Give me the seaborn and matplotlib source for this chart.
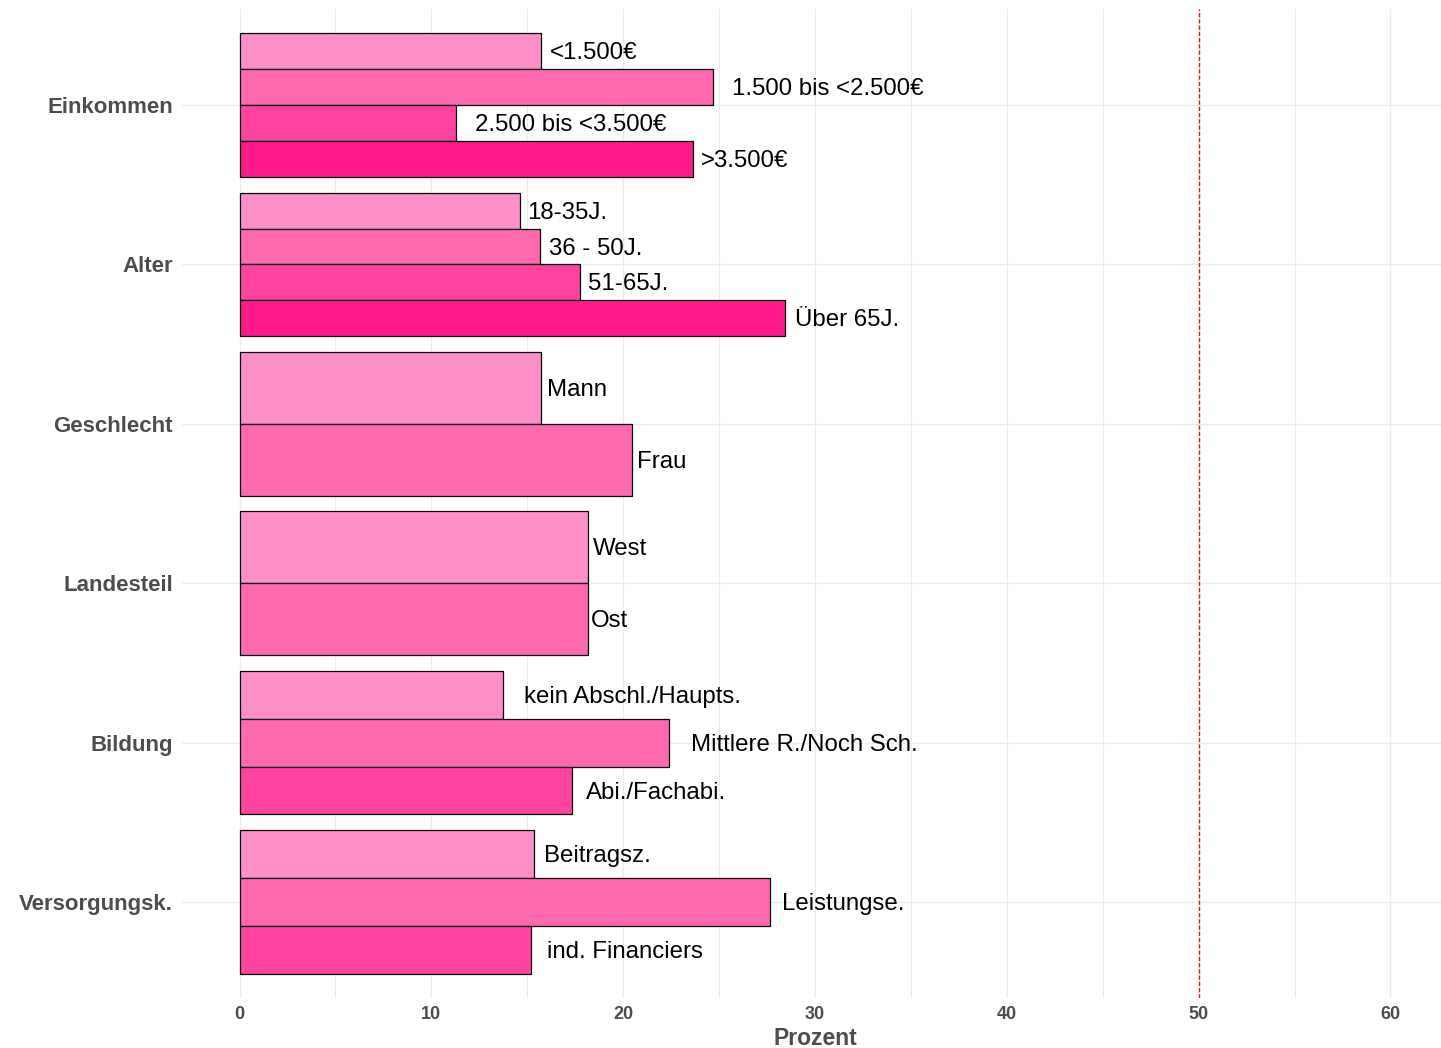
import numpy as np
import pandas as pd
import matplotlib.pyplot as plt
import seaborn as sns
from matplotlib.ticker import MultipleLocator

groups = ["Einkommen", "Alter", "Geschlecht", "Landesteil", "Bildung", "Versorgungsk."]

einkommen_labels = ["<1.500€", "1.500 bis <2.500€", "2.500 bis <3.500€", ">3.500€"]
einkommen_values = [15.74, 24.66, 11.26, 23.62]
alter_labels = ["18-35J.", "36 - 50J.", "51-65J.", "Über 65J."]
alter_values = [14.60, 15.64, 17.73, 28.41]
geschlecht_labels = ["Mann", "Frau"]
geschlecht_values = [15.74, 20.44]
landesteil_labels = ["West", "Ost"]
landesteil_values = [18.14, 18.14]
bildung_labels = ["kein Abschl./Haupts.", "Mittlere R./Noch Sch.", "Abi./Fachabi."]
bildung_values = [13.71, 22.37, 17.31]
versorgung_labels = ["Beitragsz.", "Leistungse.", "ind. Financiers"]
versorgung_values = [15.33, 27.63, 15.22]

all_labels = [einkommen_labels, alter_labels, geschlecht_labels,
              landesteil_labels, bildung_labels, versorgung_labels]
all_values = [einkommen_values, alter_values, geschlecht_values,
              landesteil_values, bildung_values, versorgung_values]

colors = ["#FF8FC8", "#FF69B0", "#FF43A0", "#FF1A8C"]

rows = []
for g, labels, values in zip(groups, all_labels, all_values):
    for lab, val in zip(labels, values):
        rows.append((g, lab, val))
df = pd.DataFrame(rows, columns=["Gruppe", "Auspraegung", "Prozent"])

sns.set_theme(style="white")
plt.rcParams["font.family"] = ["Liberation Sans", "DejaVu Sans"]

fig = plt.figure(figsize=(14.41, 10.48), dpi=100)
ax = fig.add_axes([182 / 1441, 1 - 997.7 / 1048, 1266 / 1441, 988.4 / 1048])

# one call per group so every group is dodged by its own number of bars
for g, labels in zip(groups, all_labels):
    sub = df[df["Gruppe"] == g]
    sns.barplot(data=sub, x="Prozent", y="Gruppe", hue="Auspraegung",
                hue_order=labels, order=groups, palette=colors[:len(labels)],
                width=0.9, dodge=True, saturation=1, edgecolor="black",
                linewidth=0.9, errorbar=None, legend=False, orient="h", ax=ax)

texts = []
for cont, lab in zip(ax.containers, df["Auspraegung"]):
    texts += ax.bar_label(cont, labels=[lab], padding=0, fontsize=17.3, color="black")

ax.axvline(50, color="#E8141E", ls=(0, (3, 1.5)), lw=1)

ax.xaxis.set_major_locator(MultipleLocator(10))
ax.xaxis.set_minor_locator(MultipleLocator(5))
ax.grid(True, which="major", axis="both", color="#EBEBEB", lw=1.0)
ax.grid(True, which="minor", axis="x", color="#EBEBEB", lw=0.8)
ax.set_axisbelow(True)
ax.set_xlim(-3, 63)
ax.set_ylim(5.6, -0.6)
sns.despine(ax=ax, left=True, bottom=True)
ax.tick_params(which="both", length=0)
ax.tick_params(axis="y", labelsize=16, labelcolor="#4D4D4D", pad=6.5)
ax.tick_params(axis="x", labelsize=13, labelcolor="#4D4D4D", pad=6)
plt.setp(ax.get_yticklabels(), fontweight="bold")
plt.setp(ax.get_xticklabels(), fontweight="bold")
ax.set_ylabel("")
ax.set_xlabel("Prozent", fontsize=16.5, fontweight="bold", color="#4D4D4D", labelpad=3)

# hjust = -0.1: shift each label right by a tenth of its own width
fig.canvas.draw()
r = fig.canvas.get_renderer()
for t in texts:
    w = t.get_window_extent(r).width * 72 / fig.dpi
    t.xyann = (0.1 * w, -1.5)

fig.savefig("out.png", dpi=100)
